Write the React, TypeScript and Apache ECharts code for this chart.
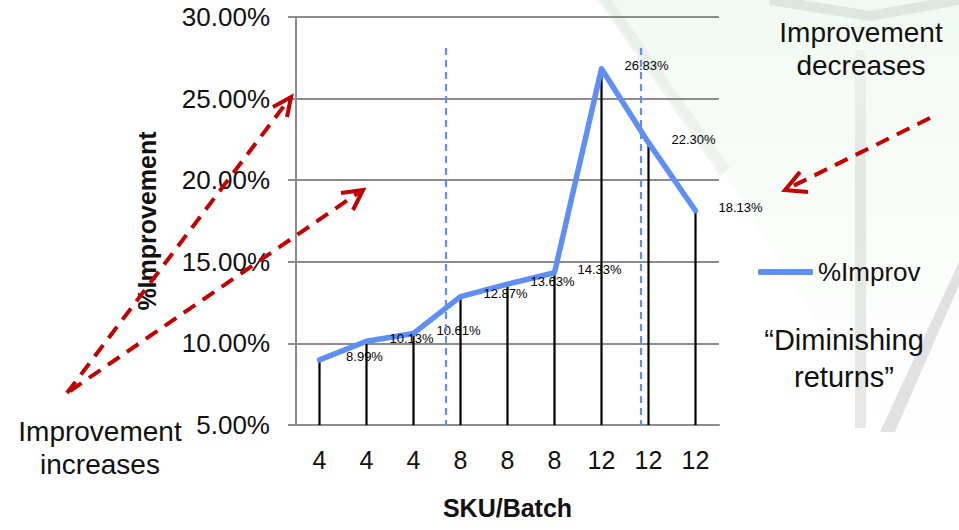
import React, { useEffect, useRef } from "react";
import * as echarts from "echarts";

const categories = ["4", "4", "4", "8", "8", "8", "12", "12", "12"];
const improvement = [8.99, 10.13, 10.61, 12.87, 13.63, 14.33, 26.83, 22.3, 18.13];
const seriesName = "%Improv";
const yMin = 5;
const yMax = 30;
const yInterval = 5;

const BLUE = "#5f8ef6";
const RED = "#c00000";
const GREY = "#8c8c8c";
const FONT = "Liberation Sans, Arial, sans-serif";

export default function App() {
  const ref = useRef<HTMLDivElement>(null);
  useEffect(() => {
    if (!ref.current) return;
    const chart = echarts.init(ref.current, null, { renderer: "svg" });
    const dashArrow = (x1: number, y1: number, x2: number, y2: number) => ({
      type: "line",
      z: 100,
      shape: { x1, y1, x2, y2 },
      style: { stroke: RED, lineWidth: 4, lineDash: [14, 9] },
    });
    const head = (pts: number[][]) => ({
      type: "polyline",
      z: 100,
      shape: { points: pts },
      style: { stroke: RED, lineWidth: 4, fill: null },
    });
    const txt = (text: string, x: number, y: number, size: number) => ({
      type: "text",
      z: 50,
      x,
      y,
      style: {
        text,
        fill: "#111",
        font: `${size}px ${FONT}`,
        align: "center",
        verticalAlign: "middle",
      },
    });
    chart.setOption({
      animation: false,
      backgroundColor: "#ffffff",
      textStyle: { fontFamily: FONT },
      grid: { left: 296, top: 17, width: 423, height: 408, containLabel: false },
      legend: {
        data: [seriesName],
        left: 758,
        top: 259,
        padding: 0,
        icon: "roundRect",
        itemWidth: 55,
        itemHeight: 6,
        textStyle: { fontSize: 26, color: "#111", fontFamily: FONT },
      },
      xAxis: {
        type: "category",
        data: categories,
        boundaryGap: true,
        name: "SKU/Batch",
        nameLocation: "middle",
        nameGap: 70,
        nameTextStyle: { fontSize: 25, fontWeight: "bold", color: "#111", fontFamily: FONT },
        axisLine: { show: true, lineStyle: { color: GREY, width: 2 } },
        axisTick: { show: false },
        axisLabel: { fontSize: 25, color: "#111", margin: 22, fontFamily: FONT },
      },
      yAxis: {
        type: "value",
        min: yMin,
        max: yMax,
        interval: yInterval,
        name: "%Improvement",
        nameLocation: "middle",
        nameGap: 137,
        nameTextStyle: { fontSize: 25, fontWeight: "bold", color: "#111", fontFamily: FONT },
        axisLine: { show: true, lineStyle: { color: GREY, width: 2 } },
        axisTick: { show: true, inside: false, length: 8, lineStyle: { color: GREY, width: 2 } },
        axisLabel: {
          fontSize: 26,
          color: "#111",
          margin: 26,
          fontFamily: FONT,
          formatter: (v: number) => `${v.toFixed(2)}%`,
        },
        splitLine: { show: true, lineStyle: { color: GREY, width: 2 } },
      },
      series: [
        {
          type: "custom",
          name: "drop",
          z: 2,
          data: improvement.map((v, i) => [i, v]),
          renderItem: (params: any, api: any) => {
            const p = api.coord([api.value(0), api.value(1)]);
            const b = api.coord([api.value(0), yMin]);
            return {
              type: "line",
              shape: { x1: p[0], y1: p[1], x2: b[0], y2: b[1] },
              style: { stroke: "#000", lineWidth: 2.2 },
            };
          },
        },
        {
          type: "line",
          name: seriesName,
          data: improvement,
          z: 3,
          symbol: "none",
          itemStyle: { color: BLUE },
          lineStyle: { color: BLUE, width: 5.5, cap: "round", join: "round" },
        },
        {
          type: "scatter",
          name: "labels",
          data: improvement,
          z: 4,
          symbolSize: 1,
          itemStyle: { color: "rgba(255,255,255,0)" },
          label: {
            show: true,
            position: "inside",
            offset: [45, -3],
            fontSize: 13,
            color: "#000000",
            opacity: 1,
            textBorderWidth: 0,
            fontFamily: FONT,
            formatter: (p: any) => `${Number(p.value).toFixed(2)}%`,
          },
        },
      ],
      graphic: {
        elements: [
          {
            type: "polygon",
            z: -10,
            shape: { points: [[600, 0], [959, 0], [959, 440], [890, 440], [725, 175]] },
            style: {
              fill: new echarts.graphic.LinearGradient(0, 0, 0, 1, [
                { offset: 0, color: "rgba(225,242,225,0.45)" },
                { offset: 1, color: "rgba(240,248,240,0.05)" },
              ]),
            },
          },
          {
            type: "polygon",
            z: -9,
            shape: { points: [[598, 0], [612, 0], [730, 168], [720, 176]] },
            style: { fill: "rgba(205,212,205,0.25)" },
          },
          {
            type: "polyline",
            z: -9,
            shape: { points: [[770, 0], [870, 16], [959, 0]] },
            style: { stroke: "rgba(200,205,200,0.45)", lineWidth: 10, fill: null },
          },
          {
            type: "rect",
            z: -9,
            shape: { x: 855, y: 50, width: 11, height: 378 },
            style: {
              fill: new echarts.graphic.LinearGradient(0, 0, 0, 1, [
                { offset: 0, color: "rgba(210,215,210,0.2)" },
                { offset: 0.3, color: "rgba(210,215,210,0.55)" },
                { offset: 1, color: "rgba(210,215,210,0.55)" },
              ]),
            },
          },
          {
            type: "polygon",
            z: -9,
            shape: { points: [[959, 262], [959, 285], [895, 432], [880, 432]] },
            style: { fill: "rgba(190,190,190,0.45)" },
          },
          {
            type: "line",
            z: 10,
            shape: { x1: 446, y1: 48, x2: 446, y2: 426 },
            style: { stroke: "#5f8ff5", lineWidth: 2.2, lineDash: [7, 5] },
          },
          {
            type: "line",
            z: 10,
            shape: { x1: 641, y1: 48, x2: 641, y2: 426 },
            style: { stroke: "#5f8ff5", lineWidth: 2.2, lineDash: [7, 5] },
          },
          dashArrow(67, 393, 290, 98),
          head([[273, 107], [291, 97], [287, 117]]),
          dashArrow(70, 391, 361, 191),
          head([[341, 193], [363, 190], [353, 210]]),
          dashArrow(930, 118, 787, 189),
          head([[800, 172], [785, 190], [808, 192]]),
          txt("Improvement", 100, 431, 28),
          txt("increases", 100, 464, 28),
          txt("Improvement", 861, 32, 28),
          txt("decreases", 861, 65, 28),
          txt("\u201cDiminishing", 844, 340, 29),
          txt("returns\u201d", 844, 377, 29),
        ],
      },
    });
    return () => chart.dispose();
  }, []);
  return (
    <div
      ref={ref}
      style={{ position: "fixed", left: 0, top: 0, width: 959, height: 530 }}
    />
  );
}
